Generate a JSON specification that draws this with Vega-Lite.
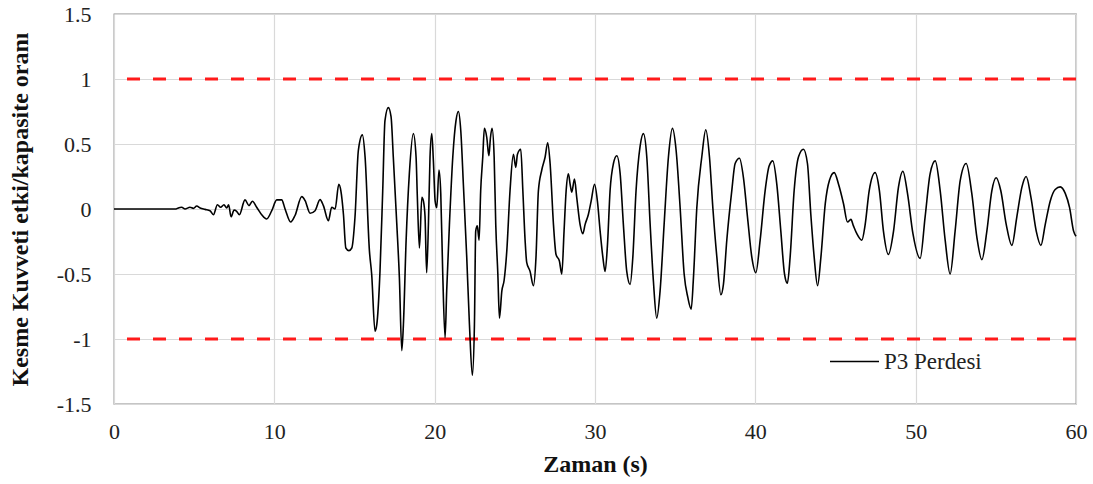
{
  "$schema": "https://vega.github.io/schema/vega-lite/v6.json",
  "width": 962,
  "height": 390,
  "autosize": {"type": "none"},
  "padding": {"left": 114, "top": 14, "right": 17, "bottom": 80},
  "background": "white",
  "config": {
    "font": "Liberation Serif",
    "view": {"stroke": "#8c8c8c", "strokeWidth": 1.3},
    "axis": {
      "grid": true, "gridColor": "#d9d9d9", "gridWidth": 1.2,
      "domain": false, "ticks": false,
      "labelFont": "Liberation Serif", "labelFontSize": 22, "labelColor": "#222",
      "titleFont": "Liberation Serif", "titleFontSize": 24, "titleFontWeight": "bold", "titleColor": "#111"
    }
  },
  "datasets": {
    "series": [
      {"t": 0, "v": 0}, {"t": 3.87, "v": 0}, {"t": 4.01, "v": 0.008}, {"t": 4.22, "v": 0.013}, {"t": 4.43, "v": 0},
      {"t": 4.74, "v": 0.013}, {"t": 4.95, "v": 0.005}, {"t": 5.16, "v": 0.023}, {"t": 5.37, "v": 0.008}, {"t": 5.68, "v": -0.003},
      {"t": 5.99, "v": -0.013}, {"t": 6.2, "v": -0.044}, {"t": 6.45, "v": 0.033}, {"t": 6.65, "v": 0.013}, {"t": 6.86, "v": 0.033},
      {"t": 7.03, "v": 0.008}, {"t": 7.15, "v": 0.033}, {"t": 7.3, "v": -0.06}, {"t": 7.49, "v": -0.008}, {"t": 7.65, "v": -0.018},
      {"t": 7.82, "v": -0.044}, {"t": 8.17, "v": 0.07}, {"t": 8.42, "v": 0.026}, {"t": 8.63, "v": 0.06}, {"t": 8.9, "v": 0.013},
      {"t": 9.21, "v": -0.044}, {"t": 9.52, "v": -0.077}, {"t": 9.84, "v": -0.013}, {"t": 10.15, "v": 0.07}, {"t": 10.46, "v": 0.07},
      {"t": 10.67, "v": 0}, {"t": 11.02, "v": -0.1}, {"t": 11.29, "v": -0.05}, {"t": 11.71, "v": 0.095}, {"t": 11.92, "v": 0.064},
      {"t": 12.23, "v": -0.033}, {"t": 12.54, "v": -0.013}, {"t": 12.85, "v": 0.072}, {"t": 13.06, "v": 0.026}, {"t": 13.37, "v": -0.09},
      {"t": 13.58, "v": 0.013}, {"t": 13.79, "v": 0}, {"t": 14.02, "v": 0.19}, {"t": 14.15, "v": 0.14}, {"t": 14.31, "v": -0.04},
      {"t": 14.46, "v": -0.3}, {"t": 14.65, "v": -0.32}, {"t": 14.83, "v": -0.3}, {"t": 15.03, "v": -0.064}, {"t": 15.24, "v": 0.45},
      {"t": 15.49, "v": 0.57}, {"t": 15.66, "v": 0.4}, {"t": 15.93, "v": -0.32}, {"t": 16.07, "v": -0.5}, {"t": 16.28, "v": -0.94},
      {"t": 16.39, "v": -0.89}, {"t": 16.59, "v": -0.48}, {"t": 16.76, "v": 0.14}, {"t": 16.9, "v": 0.68}, {"t": 17.11, "v": 0.78},
      {"t": 17.28, "v": 0.71}, {"t": 17.42, "v": 0.4}, {"t": 17.64, "v": -0.12}, {"t": 17.8, "v": -0.53}, {"t": 17.95, "v": -1.09},
      {"t": 18.05, "v": -0.89}, {"t": 18.22, "v": -0.24}, {"t": 18.42, "v": 0.27}, {"t": 18.67, "v": 0.58}, {"t": 18.84, "v": 0.4},
      {"t": 18.92, "v": 0.09}, {"t": 19.05, "v": -0.3}, {"t": 19.2, "v": 0.09}, {"t": 19.3, "v": 0.06}, {"t": 19.4, "v": -0.06},
      {"t": 19.5, "v": -0.49}, {"t": 19.61, "v": -0.12}, {"t": 19.71, "v": 0.4}, {"t": 19.82, "v": 0.58}, {"t": 19.92, "v": 0.37},
      {"t": 20.03, "v": 0.06}, {"t": 20.13, "v": 0.01}, {"t": 20.27, "v": 0.3}, {"t": 20.38, "v": 0.12}, {"t": 20.5, "v": -0.48},
      {"t": 20.65, "v": -0.99}, {"t": 20.75, "v": -0.63}, {"t": 20.92, "v": -0.12}, {"t": 21.13, "v": 0.4}, {"t": 21.33, "v": 0.68},
      {"t": 21.48, "v": 0.75}, {"t": 21.63, "v": 0.6}, {"t": 21.79, "v": 0.19}, {"t": 22.0, "v": -0.37}, {"t": 22.17, "v": -0.89},
      {"t": 22.35, "v": -1.28}, {"t": 22.48, "v": -0.89}, {"t": 22.56, "v": -0.17}, {"t": 22.66, "v": -0.13}, {"t": 22.77, "v": -0.24},
      {"t": 22.87, "v": 0.14}, {"t": 23.0, "v": 0.4}, {"t": 23.1, "v": 0.62}, {"t": 23.25, "v": 0.55}, {"t": 23.38, "v": 0.41},
      {"t": 23.48, "v": 0.55}, {"t": 23.58, "v": 0.62}, {"t": 23.71, "v": 0.4}, {"t": 23.81, "v": -0.12}, {"t": 23.94, "v": -0.5},
      {"t": 24.04, "v": -0.84}, {"t": 24.19, "v": -0.63}, {"t": 24.33, "v": -0.55}, {"t": 24.5, "v": -0.32}, {"t": 24.7, "v": 0.14},
      {"t": 24.91, "v": 0.42}, {"t": 25.06, "v": 0.32}, {"t": 25.16, "v": 0.42}, {"t": 25.37, "v": 0.46}, {"t": 25.5, "v": 0.14},
      {"t": 25.64, "v": -0.24}, {"t": 25.74, "v": -0.41}, {"t": 25.95, "v": -0.48}, {"t": 26.16, "v": -0.59}, {"t": 26.32, "v": -0.37},
      {"t": 26.47, "v": 0.14}, {"t": 26.68, "v": 0.3}, {"t": 26.89, "v": 0.4}, {"t": 27.05, "v": 0.51}, {"t": 27.2, "v": 0.35},
      {"t": 27.41, "v": -0.12}, {"t": 27.57, "v": -0.35}, {"t": 27.78, "v": -0.4}, {"t": 27.93, "v": -0.5}, {"t": 28.07, "v": -0.17},
      {"t": 28.2, "v": 0.14}, {"t": 28.34, "v": 0.27}, {"t": 28.45, "v": 0.19}, {"t": 28.55, "v": 0.13}, {"t": 28.72, "v": 0.23},
      {"t": 28.86, "v": 0.09}, {"t": 29.07, "v": -0.12}, {"t": 29.24, "v": -0.19}, {"t": 29.38, "v": -0.12}, {"t": 29.59, "v": -0.04},
      {"t": 29.76, "v": 0.06}, {"t": 29.97, "v": 0.19}, {"t": 30.15, "v": 0.06}, {"t": 30.32, "v": -0.17}, {"t": 30.49, "v": -0.37},
      {"t": 30.63, "v": -0.48}, {"t": 30.78, "v": -0.27}, {"t": 30.94, "v": 0.14}, {"t": 31.15, "v": 0.35}, {"t": 31.36, "v": 0.41},
      {"t": 31.57, "v": 0.27}, {"t": 31.77, "v": -0.12}, {"t": 31.98, "v": -0.48}, {"t": 32.19, "v": -0.58}, {"t": 32.36, "v": -0.37},
      {"t": 32.56, "v": 0.14}, {"t": 32.81, "v": 0.48}, {"t": 33.02, "v": 0.58}, {"t": 33.23, "v": 0.4}, {"t": 33.44, "v": -0.12},
      {"t": 33.64, "v": -0.55}, {"t": 33.85, "v": -0.84}, {"t": 34.06, "v": -0.63}, {"t": 34.31, "v": -0.12}, {"t": 34.58, "v": 0.4},
      {"t": 34.83, "v": 0.62}, {"t": 35.06, "v": 0.45}, {"t": 35.31, "v": 0.01}, {"t": 35.56, "v": -0.5}, {"t": 35.79, "v": -0.68},
      {"t": 36.0, "v": -0.77}, {"t": 36.14, "v": -0.53}, {"t": 36.35, "v": 0.01}, {"t": 36.66, "v": 0.4}, {"t": 36.91, "v": 0.61},
      {"t": 37.14, "v": 0.4}, {"t": 37.35, "v": 0.01}, {"t": 37.6, "v": -0.37}, {"t": 37.85, "v": -0.66}, {"t": 38.01, "v": -0.58},
      {"t": 38.22, "v": -0.24}, {"t": 38.53, "v": 0.14}, {"t": 38.74, "v": 0.35}, {"t": 39.01, "v": 0.39}, {"t": 39.26, "v": 0.24},
      {"t": 39.51, "v": -0.06}, {"t": 39.78, "v": -0.37}, {"t": 40.03, "v": -0.49}, {"t": 40.3, "v": -0.24}, {"t": 40.61, "v": 0.14},
      {"t": 40.86, "v": 0.33}, {"t": 41.09, "v": 0.37}, {"t": 41.34, "v": 0.19}, {"t": 41.59, "v": -0.17}, {"t": 41.82, "v": -0.5},
      {"t": 42.0, "v": -0.57}, {"t": 42.17, "v": -0.37}, {"t": 42.42, "v": 0.14}, {"t": 42.69, "v": 0.4}, {"t": 43.0, "v": 0.46},
      {"t": 43.25, "v": 0.35}, {"t": 43.46, "v": -0.04}, {"t": 43.67, "v": -0.37}, {"t": 43.88, "v": -0.59}, {"t": 44.09, "v": -0.37},
      {"t": 44.36, "v": 0.04}, {"t": 44.62, "v": 0.22}, {"t": 44.92, "v": 0.28}, {"t": 45.19, "v": 0.19}, {"t": 45.5, "v": 0.04},
      {"t": 45.75, "v": -0.1}, {"t": 45.96, "v": -0.08}, {"t": 46.12, "v": -0.13}, {"t": 46.33, "v": -0.19}, {"t": 46.64, "v": -0.24},
      {"t": 46.85, "v": -0.12}, {"t": 47.1, "v": 0.14}, {"t": 47.47, "v": 0.28}, {"t": 47.74, "v": 0.14}, {"t": 47.99, "v": -0.17},
      {"t": 48.3, "v": -0.35}, {"t": 48.62, "v": -0.17}, {"t": 48.93, "v": 0.17}, {"t": 49.2, "v": 0.29}, {"t": 49.49, "v": 0.12},
      {"t": 49.83, "v": -0.19}, {"t": 50.28, "v": -0.38}, {"t": 50.59, "v": -0.06}, {"t": 50.9, "v": 0.27}, {"t": 51.22, "v": 0.37},
      {"t": 51.53, "v": 0.14}, {"t": 51.84, "v": -0.24}, {"t": 52.15, "v": -0.5}, {"t": 52.46, "v": -0.17}, {"t": 52.78, "v": 0.22},
      {"t": 53.15, "v": 0.35}, {"t": 53.5, "v": 0.12}, {"t": 53.82, "v": -0.22}, {"t": 54.13, "v": -0.39}, {"t": 54.44, "v": -0.17},
      {"t": 54.75, "v": 0.14}, {"t": 55.02, "v": 0.24}, {"t": 55.31, "v": 0.14}, {"t": 55.65, "v": -0.12}, {"t": 56.0, "v": -0.28},
      {"t": 56.31, "v": -0.06}, {"t": 56.63, "v": 0.17}, {"t": 56.89, "v": 0.25}, {"t": 57.19, "v": 0.09}, {"t": 57.52, "v": -0.17},
      {"t": 57.81, "v": -0.28}, {"t": 58.08, "v": -0.12}, {"t": 58.39, "v": 0.06}, {"t": 58.7, "v": 0.15}, {"t": 59.02, "v": 0.17},
      {"t": 59.33, "v": 0.12}, {"t": 59.6, "v": 0.01}, {"t": 59.85, "v": -0.17}, {"t": 60.0, "v": -0.21}
    ],
    "limits": [{"v": 1}, {"v": -1}]
  },
  "layer": [
    {
      "data": {"name": "limits"},
      "mark": {"type": "rule", "color": "#ff1a1a", "strokeWidth": 3, "strokeDash": [13, 13]},
      "encoding": {
        "y": {"field": "v", "type": "quantitative", "scale": {"domain": [-1.5, 1.5]}}
      }
    },
    {
      "data": {"name": "series"},
      "mark": {"type": "line", "strokeWidth": 1.6, "interpolate": "monotone"},
      "encoding": {
        "x": {
          "field": "t", "type": "quantitative",
          "scale": {"domain": [0, 60], "nice": false},
          "axis": {"title": "Zaman (s)", "values": [0, 10, 20, 30, 40, 50, 60], "labelPadding": 17, "titlePadding": 10, "labelFlush": false}
        },
        "y": {
          "field": "v", "type": "quantitative",
          "scale": {"domain": [-1.5, 1.5], "nice": false},
          "axis": {"title": "Kesme Kuvveti etki/kapasite oranı", "values": [-1.5, -1, -0.5, 0, 0.5, 1, 1.5], "labelExpr": "datum.value + ''", "labelPadding": 23, "titlePadding": 24, "labelFlush": false}
        },
        "color": {
          "datum": "P3 Perdesi",
          "type": "nominal",
          "scale": {"range": ["black"]},
          "legend": {
            "title": null, "orient": "none", "legendX": 715, "legendY": 322,
            "symbolType": "stroke", "symbolSize": 2401, "symbolStrokeWidth": 1.5, "symbolStrokeColor": "black",
            "labelFont": "Liberation Serif", "labelFontSize": 23, "labelColor": "#222", "labelOffset": 4, "padding": 0
          }
        }
      }
    }
  ]
}
